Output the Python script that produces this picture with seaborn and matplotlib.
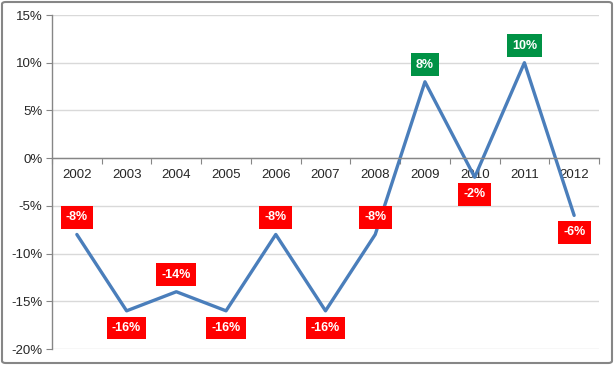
import numpy as np
import seaborn as sns
import matplotlib.pyplot as plt
from matplotlib.patches import FancyBboxPatch
from matplotlib.ticker import FixedLocator, PercentFormatter

years = ["2002", "2003", "2004", "2005", "2006", "2007", "2008", "2009", "2010", "2011", "2012"]
change = [-8, -16, -14, -16, -8, -16, -8, 8, -2, 10, -6]
label_side = ["up", "down", "up", "down", "up", "down", "up", "up", "down", "up", "down"]

sns.set_style("white")
plt.rcParams["font.family"] = ["Liberation Sans", "DejaVu Sans"]
plt.rcParams["axes.unicode_minus"] = False

fig = plt.figure(figsize=(6.14, 3.65), dpi=100)
ax = fig.add_axes([52 / 614, 1 - 349 / 365, 547 / 614, 334 / 365])

x = np.arange(len(years))
sns.lineplot(x=x, y=change, ax=ax, color="#4A7EBB", linewidth=2.4)

ax.set_xlim(-0.5, len(years) - 0.5)
ax.set_ylim(-20, 15)
ax.yaxis.set_major_locator(FixedLocator(range(-20, 16, 5)))
ax.yaxis.set_major_formatter(PercentFormatter(decimals=0))
ax.grid(axis="y", color="#D9D9D9", linewidth=1)
ax.set_axisbelow(True)

# category axis sits on the zero line
ax.spines["bottom"].set_position(("data", 0))
ax.spines["top"].set_visible(False)
ax.spines["right"].set_visible(False)
for s in ("left", "bottom"):
    ax.spines[s].set_color("#868686")
    ax.spines[s].set_linewidth(1)

ax.set_xticks(np.arange(len(years) + 1) - 0.5)
ax.set_xticklabels([])
ax.set_xticks(x, minor=True)
ax.set_xticklabels(years, minor=True)
ax.tick_params(axis="x", which="major", direction="out", length=4, color="#868686", bottom=True)
ax.tick_params(axis="x", which="minor", length=0, pad=8, labelsize=9.5, bottom=True)
ax.tick_params(axis="y", direction="out", length=4, color="#868686", labelsize=9.5, left=True, pad=3)
ax.set_xlabel("")
ax.set_ylabel("")

for xi, v, side in zip(x, change, label_side):
    box = "#009245" if v > 0 else "#FF0000"
    dy = 12.3 if side == "up" else -12.3
    ax.annotate(f"{v}%", (xi, v), xytext=(0, dy), textcoords="offset points",
                ha="center", va="center", color="white", fontsize=9, fontweight="bold",
                bbox=dict(boxstyle="square,pad=0.42", fc=box, ec="none"))

fig.patches.append(FancyBboxPatch((2 / 614, 2 / 365), 610 / 614, 361 / 365,
                                  boxstyle="round,pad=0,rounding_size=0.006",
                                  transform=fig.transFigure, fill=False,
                                  edgecolor="#868686", linewidth=1.5))

plt.savefig("out.png", dpi=100)
plt.close()
